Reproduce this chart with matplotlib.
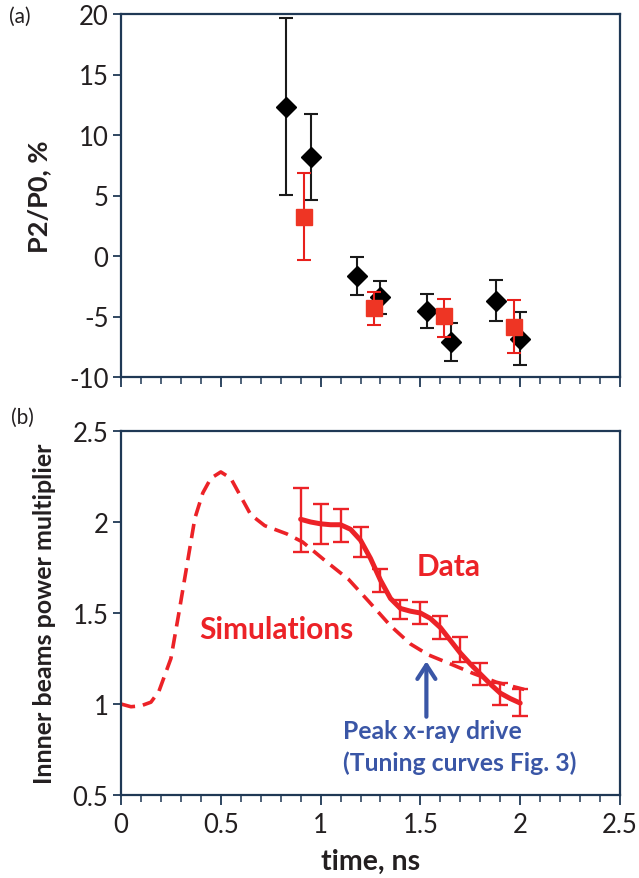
import matplotlib
matplotlib.use("Agg")
import matplotlib.pyplot as plt
from matplotlib.ticker import MultipleLocator

# ---------------- Panel (a) data ----------------
black_t = [0.829, 0.953, 1.184, 1.300, 1.535, 1.654, 1.881, 2.000]
black_v = [12.31, 8.20, -1.63, -3.41, -4.57, -7.09, -3.69, -6.82]
black_hi = [19.70, 11.74, -0.07, -2.04, -3.11, -5.50, -1.96, -4.62]
black_lo = [5.04, 4.63, -3.22, -4.76, -5.97, -8.66, -5.39, -9.01]

red_t = [0.916, 1.267, 1.617, 1.968]
red_v = [3.26, -4.29, -4.98, -5.89]
red_hi = [6.85, -2.95, -3.52, -3.66]
red_lo = [-0.29, -5.67, -6.68, -8.03]

# ---------------- Panel (b) data ----------------
sim_t = [0.0, 0.05, 0.1, 0.15, 0.19, 0.25, 0.29, 0.33, 0.37, 0.41, 0.45, 0.5,
         0.55, 0.58, 0.65, 0.72, 0.83, 0.91, 1.02, 1.14, 1.24, 1.35, 1.45,
         1.54, 1.64, 1.76, 1.88, 2.02]
sim_v = [1.0, 0.985, 0.99, 1.01, 1.07, 1.25, 1.50, 1.76, 2.02, 2.16, 2.24, 2.275,
         2.24, 2.18, 2.04, 1.98, 1.935, 1.89, 1.79, 1.685, 1.565, 1.43, 1.33,
         1.27, 1.225, 1.17, 1.12, 1.08]

fit_t = [0.9, 0.95, 1.0, 1.05, 1.1, 1.15, 1.2, 1.25, 1.3, 1.35, 1.4, 1.45, 1.5,
         1.55, 1.6, 1.65, 1.7, 1.75, 1.8, 1.85, 1.9, 1.95, 2.0]
fit_v = [2.015, 2.0, 1.99, 1.985, 1.985, 1.96, 1.90, 1.80, 1.68, 1.58, 1.525,
         1.51, 1.50, 1.47, 1.42, 1.35, 1.28, 1.22, 1.165, 1.11, 1.06, 1.03, 1.005]

data_t = [0.9, 1.0, 1.1, 1.2, 1.3, 1.4, 1.5, 1.6, 1.7, 1.8, 1.9, 2.0]
data_v = [2.01, 1.99, 1.98, 1.89, 1.68, 1.52, 1.50, 1.42, 1.30, 1.165, 1.055, 1.01]
data_err = [0.177, 0.11, 0.09, 0.082, 0.062, 0.052, 0.062, 0.065, 0.07, 0.06, 0.06, 0.074]

peak_t = 1.53
arrow_from, arrow_to = 0.93, 1.235

a_yticks = [-10, -5, 0, 5, 10, 15, 20]
b_yticks = [0.5, 1, 1.5, 2, 2.5]
b_xticks = [0, 0.5, 1, 1.5, 2, 2.5]
b_xticklabels = ["0", "0.5", "1", "1.5", "2", "2.5"]

# ---------------- Styling ----------------
plt.rcParams["font.family"] = ["Lato", "DejaVu Sans"]
RED = "#ec2227"
SQ_RED = "#ee3524"
BLUE = "#3a56a6"
SPINE = "#1f3855"
TXT = "#231f20"
TICKFS = 18.5

fig = plt.figure(figsize=(6.39, 8.79), dpi=100)
L, R = 121, 620
W, H = 639, 879
ax1 = fig.add_axes([L / W, 1 - 378 / H, (R - L) / W, (378 - 15) / H])
ax2 = fig.add_axes([L / W, 1 - 796 / H, (R - L) / W, (796 - 432) / H])

for ax in (ax1, ax2):
    for s in ax.spines.values():
        s.set_color(SPINE)
        s.set_linewidth(1.6)
    ax.set_xlim(0, 2.5)
    ax.xaxis.set_major_locator(MultipleLocator(0.5))
    ax.xaxis.set_minor_locator(MultipleLocator(0.1))
    ax.tick_params(axis="x", which="major", direction="out", length=7, width=1.3,
                   color=SPINE, labelsize=TICKFS, labelcolor=TXT, pad=5)
    ax.tick_params(axis="x", which="minor", direction="out", length=5, width=1.1,
                   color=SPINE)
    ax.tick_params(axis="y", which="major", direction="out", length=6, width=1.3,
                   color=SPINE, labelsize=TICKFS, labelcolor=TXT, pad=3)

# Panel (a)
ax1.set_ylim(-10, 20)
ax1.set_yticks(a_yticks)
ax1.set_yticklabels([str(v) for v in a_yticks])
ax1.tick_params(axis="x", labelbottom=False)

ax1.errorbar(black_t, black_v,
             yerr=[[v - lo for v, lo in zip(black_v, black_lo)],
                   [hi - v for v, hi in zip(black_v, black_hi)]],
             fmt="D", color="black", ms=10, mec="black",
             ecolor="#1a1a1a", elinewidth=1.5, capsize=5, capthick=1.5, zorder=3)
ax1.errorbar(red_t, red_v,
             yerr=[[v - lo for v, lo in zip(red_v, red_lo)],
                   [hi - v for v, hi in zip(red_v, red_hi)]],
             fmt="s", color=SQ_RED, ms=11, mec=SQ_RED,
             ecolor="#e8201c", elinewidth=1.5, capsize=5, capthick=1.5, zorder=4)

ax1.set_ylabel("P2/P0, %", fontsize=19.5, fontweight="bold", color=TXT)
ax1.yaxis.set_label_coords((39 - L) / (R - L), 0.5)

# Panel (b)
ax2.set_ylim(0.5, 2.5)
ax2.set_yticks(b_yticks)
ax2.set_yticklabels(["0.5", "1", "1.5", "2", "2.5"])
ax2.set_xticks(b_xticks)
ax2.set_xticklabels(b_xticklabels)

ax2.plot(sim_t, sim_v, color=RED, lw=2.6, linestyle=(0, (4, 2.2)),
         solid_capstyle="butt", zorder=2)
ax2.plot(fit_t, fit_v, color=RED, lw=3.6, solid_capstyle="round", zorder=3)
ax2.errorbar(data_t, data_v, yerr=data_err, fmt="none", ecolor=RED,
             elinewidth=1.7, capsize=5.5, capthick=1.7, zorder=4)

ax2.annotate("", xy=(peak_t, arrow_to), xytext=(peak_t, arrow_from),
             arrowprops=dict(arrowstyle="->,head_length=1.0,head_width=0.65",
                             color=BLUE, lw=3, shrinkA=0, shrinkB=0))

ax2.text(0.39, 1.41, "Simulations", color=RED, fontsize=21.5, fontweight="bold",
         ha="left", va="center")
ax2.text(1.48, 1.757, "Data", color=RED, fontsize=21.5, fontweight="bold",
         ha="left", va="center")
ax2.text(1.112, 0.852, "Peak x-ray drive", color=BLUE, fontsize=17.8,
         fontweight="bold", ha="left", va="center")
ax2.text(1.112, 0.680, "(Tuning curves Fig. 3)", color=BLUE, fontsize=17.8,
         fontweight="bold", ha="left", va="center")

ax2.set_ylabel("Innner beams power multiplier", fontsize=18, fontweight="bold",
               color=TXT)
ax2.yaxis.set_label_coords((45 - L) / (R - L), 0.5)
ax2.set_xlabel("time, ns", fontsize=20.5, fontweight="bold", color=TXT)
ax2.xaxis.set_label_coords(0.5, -(862 - 796) / (796 - 432))
ax2.xaxis.label.set_va("center")
ax1.yaxis.label.set_va("center")
ax2.yaxis.label.set_va("center")

fig.text(20 / W, 1 - 17 / H, "(a)", fontsize=15, color=TXT, ha="center", va="center")
fig.text(22 / W, 1 - 418 / H, "(b)", fontsize=15, color=TXT, ha="center", va="center")

fig.savefig("out.png", dpi=100)
